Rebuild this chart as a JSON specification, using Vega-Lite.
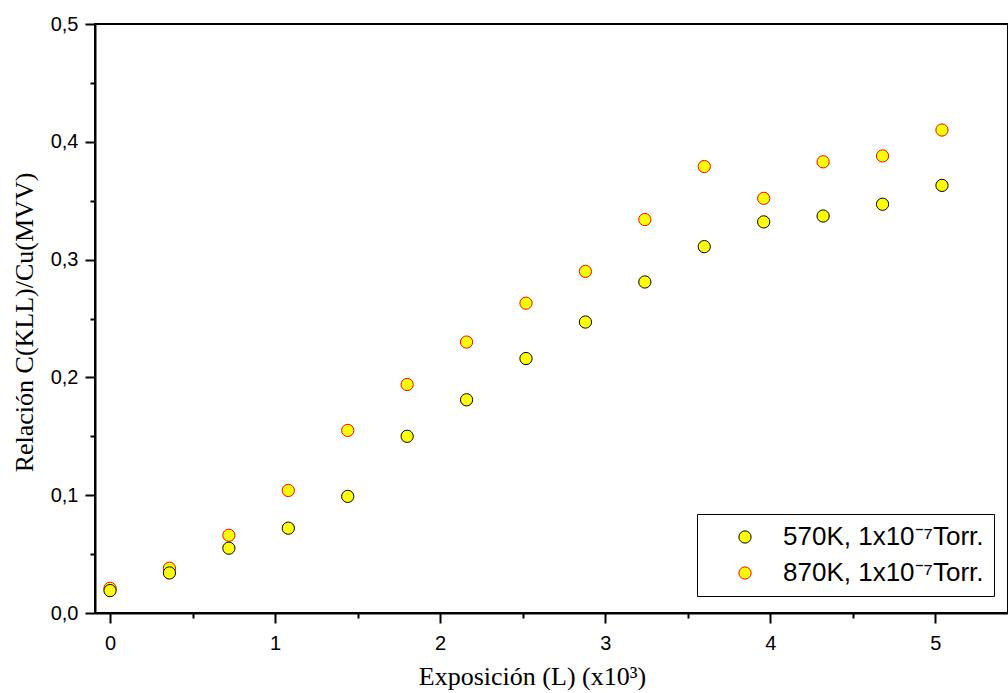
{
  "$schema": "https://vega.github.io/schema/vega-lite/v6.json",
  "width": 913,
  "height": 589,
  "autosize": {"type": "none"},
  "padding": {"left": 95, "top": 24, "right": 0, "bottom": 80},
  "background": "white",
  "data": {
    "values": [
      {"x": 0, "y": 0.021, "s": "870K, 1x10⁻⁷Torr."},
      {"x": 0.36, "y": 0.038, "s": "870K, 1x10⁻⁷Torr."},
      {"x": 0.72, "y": 0.066, "s": "870K, 1x10⁻⁷Torr."},
      {"x": 1.08, "y": 0.104, "s": "870K, 1x10⁻⁷Torr."},
      {"x": 1.44, "y": 0.155, "s": "870K, 1x10⁻⁷Torr."},
      {"x": 1.8, "y": 0.194, "s": "870K, 1x10⁻⁷Torr."},
      {"x": 2.16, "y": 0.230, "s": "870K, 1x10⁻⁷Torr."},
      {"x": 2.52, "y": 0.263, "s": "870K, 1x10⁻⁷Torr."},
      {"x": 2.88, "y": 0.290, "s": "870K, 1x10⁻⁷Torr."},
      {"x": 3.24, "y": 0.334, "s": "870K, 1x10⁻⁷Torr."},
      {"x": 3.6, "y": 0.379, "s": "870K, 1x10⁻⁷Torr."},
      {"x": 3.96, "y": 0.352, "s": "870K, 1x10⁻⁷Torr."},
      {"x": 4.32, "y": 0.383, "s": "870K, 1x10⁻⁷Torr."},
      {"x": 4.68, "y": 0.388, "s": "870K, 1x10⁻⁷Torr."},
      {"x": 5.04, "y": 0.410, "s": "870K, 1x10⁻⁷Torr."},
      {"x": 0, "y": 0.019, "s": "570K, 1x10⁻⁷Torr."},
      {"x": 0.36, "y": 0.034, "s": "570K, 1x10⁻⁷Torr."},
      {"x": 0.72, "y": 0.055, "s": "570K, 1x10⁻⁷Torr."},
      {"x": 1.08, "y": 0.072, "s": "570K, 1x10⁻⁷Torr."},
      {"x": 1.44, "y": 0.099, "s": "570K, 1x10⁻⁷Torr."},
      {"x": 1.8, "y": 0.150, "s": "570K, 1x10⁻⁷Torr."},
      {"x": 2.16, "y": 0.181, "s": "570K, 1x10⁻⁷Torr."},
      {"x": 2.52, "y": 0.216, "s": "570K, 1x10⁻⁷Torr."},
      {"x": 2.88, "y": 0.247, "s": "570K, 1x10⁻⁷Torr."},
      {"x": 3.24, "y": 0.281, "s": "570K, 1x10⁻⁷Torr."},
      {"x": 3.6, "y": 0.311, "s": "570K, 1x10⁻⁷Torr."},
      {"x": 3.96, "y": 0.332, "s": "570K, 1x10⁻⁷Torr."},
      {"x": 4.32, "y": 0.337, "s": "570K, 1x10⁻⁷Torr."},
      {"x": 4.68, "y": 0.347, "s": "570K, 1x10⁻⁷Torr."},
      {"x": 5.04, "y": 0.363, "s": "570K, 1x10⁻⁷Torr."}
    ]
  },
  "mark": {"type": "point", "filled": true, "fill": "#ffff00", "size": 150, "strokeWidth": 1, "opacity": 1, "clip": true},
  "encoding": {
    "x": {
      "field": "x", "type": "quantitative",
      "scale": {"domain": [-0.091, 5.44], "nice": false, "zero": false},
      "axis": {
        "title": "Exposición (L) (x10³)",
        "values": [0, 0.5, 1, 1.5, 2, 2.5, 3, 3.5, 4, 4.5, 5],
        "labelExpr": "datum.value % 1 === 0 ? format(datum.value, 'd') : ''",
        "tickSize": {"condition": {"test": "datum.value % 1 === 0", "value": 10}, "value": 5},
        "labelPadding": 10,
        "titleX": 437,
        "titleY": 71,
        "titleAlign": "center",
        "titleBaseline": "alphabetic"
      }
    },
    "y": {
      "field": "y", "type": "quantitative",
      "scale": {"domain": [0, 0.5], "nice": false},
      "axis": {
        "title": "Relación C(KLL)/Cu(MVV)",
        "values": [0, 0.05, 0.1, 0.15, 0.2, 0.25, 0.3, 0.35, 0.4, 0.45, 0.5],
        "labelExpr": "abs(datum.value*10 - round(datum.value*10)) < 0.001 ? replace(format(datum.value, '.1f'), '.', ',') : ''",
        "tickSize": {"condition": {"test": "abs(datum.value*10 - round(datum.value*10)) < 0.001", "value": 10}, "value": 5},
        "labelPadding": 7,
        "titleX": -63,
        "titleY": 298,
        "titleAngle": -90,
        "titleAlign": "center",
        "titleBaseline": "alphabetic"
      }
    },
    "stroke": {
      "field": "s", "type": "nominal",
      "scale": {"domain": ["570K, 1x10⁻⁷Torr.", "870K, 1x10⁻⁷Torr."], "range": ["#000000", "#ff0000"]},
      "legend": {
        "title": null,
        "orient": "none",
        "legendX": 602,
        "legendY": 490,
        "strokeColor": "black",
        "fillColor": "white",
        "padding": 10,
        "symbolType": "circle",
        "symbolSize": 150,
        "symbolFillColor": "#ffff00",
        "symbolStrokeWidth": 1,
        "symbolOffset": 25,
        "labelOffset": 25,
        "labelLimit": 500,
        "labelFont": "Liberation Sans",
        "labelFontSize": 26,
        "labelColor": "black",
        "rowPadding": 10
      }
    }
  },
  "config": {
    "view": {"stroke": "black", "strokeWidth": 2},
    "axis": {
      "grid": false,
      "domainColor": "black",
      "domainWidth": 2,
      "tickColor": "black",
      "tickWidth": 2,
      "labelFont": "Liberation Sans",
      "labelFontSize": 20,
      "labelColor": "black",
      "titleFont": "Liberation Serif",
      "titleFontSize": 26,
      "titleFontWeight": "normal",
      "titleColor": "black"
    }
  }
}
